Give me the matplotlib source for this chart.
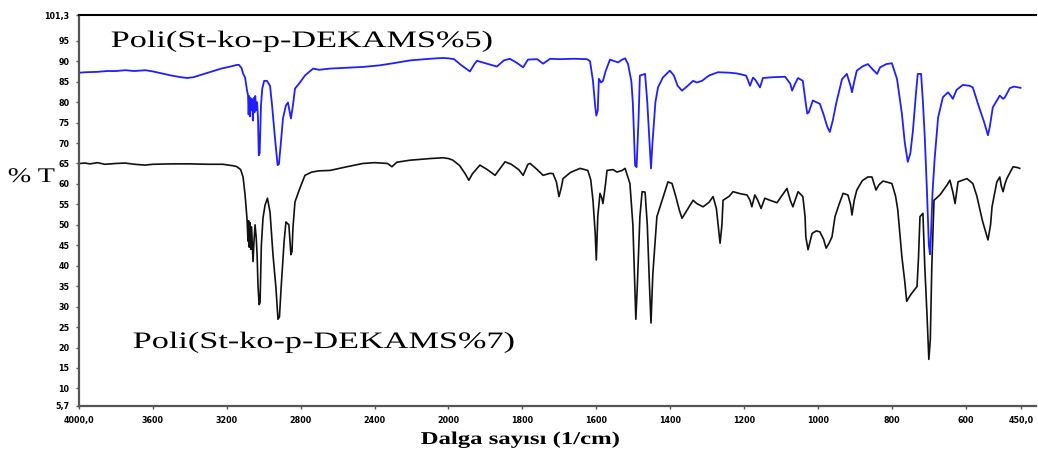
import numpy as np
import matplotlib
matplotlib.use("Agg")
import matplotlib.pyplot as plt
from matplotlib.patheffects import AbstractPathEffect
from matplotlib.transforms import Affine2D
from matplotlib.ticker import FixedLocator, FixedFormatter

# ---------------- spectra (wavenumber in 1/cm, transmittance in %T) ----------------
wn_5 = [3995, 3968, 3900, 3850, 3800, 3750, 3700, 3640, 3600, 3550, 3500, 3450, 3415,
        3380, 3330, 3280, 3230, 3180, 3145, 3134, 3120, 3112, 3101, 3091, 3085, 3082,
        3079, 3075, 3071, 3066, 3062, 3059, 3055, 3050, 3046, 3041, 3036, 3031, 3027,
        3022, 3015, 3008, 2998, 2983, 2966, 2955, 2939, 2925, 2918, 2907, 2896, 2880,
        2869, 2853, 2842, 2831, 2804, 2777, 2733, 2700, 2641, 2550, 2463, 2371, 2300,
        2208, 2100, 2030, 2000, 1985, 1965, 1942, 1930, 1923, 1900, 1869, 1850, 1834,
        1815, 1798, 1785, 1760, 1744, 1725, 1700, 1660, 1625, 1617, 1609, 1603, 1600,
        1596, 1593, 1587, 1582, 1575, 1563, 1550, 1541, 1530, 1522, 1514, 1505, 1501,
        1495, 1491, 1486, 1482, 1468, 1462, 1456, 1452, 1448, 1440, 1433, 1420, 1401,
        1390, 1380, 1368, 1355, 1338, 1328, 1314, 1295, 1271, 1240, 1219, 1195, 1190,
        1184, 1176, 1170, 1157, 1149, 1120, 1089, 1075, 1070, 1062, 1054, 1041, 1033,
        1029, 1025, 1014, 1005, 995, 985, 975, 968, 960, 950, 935, 922, 912, 908, 902,
        895, 880, 865, 852, 840, 832, 815, 800, 786, 773, 765, 757, 750, 743, 735, 730,
        721, 716, 711, 705, 700, 697, 694, 690, 684, 675, 662, 648, 640, 635, 625, 608,
        590, 581, 565, 550, 540, 535, 527, 515, 508, 499, 494, 481, 470, 459, 452]
t_5 = [87.2, 87.3, 87.4, 87.6, 87.6, 87.8, 87.6, 87.8, 87.5, 87.0, 86.5, 86.1, 85.9,
       86.1, 86.8, 87.5, 88.2, 88.7, 89.1, 89.1, 88.3, 87.0, 86.0, 83.0, 81.6, 77.0,
       81.5, 76.5, 81.0, 78.0, 80.5, 75.5, 81.0, 77.5, 81.5, 78.0, 80.0, 76.0, 67.0,
       67.5, 79.2, 83.3, 85.2, 85.2, 84.0, 79.2, 71.1, 64.6, 64.8, 70.2, 76.0, 79.2,
       79.9, 76.0, 79.2, 83.3, 84.8, 86.5, 88.2, 87.9, 88.2, 88.4, 88.6, 89.0, 89.5,
       90.2, 90.6, 90.8, 90.7, 90.5, 89.0, 87.5, 89.3, 90.1, 89.5, 88.7, 90.2, 90.6,
       89.6, 88.5, 90.4, 90.5, 89.4, 90.6, 90.5, 90.6, 90.5, 90.0, 85.2, 79.0, 76.7,
       78.0, 85.7, 84.8, 85.2, 87.5, 90.4, 90.0, 89.7, 90.4, 90.7, 89.3, 85.0, 79.6,
       64.5, 64.1, 75.0, 86.5, 86.9, 80.0, 70.0, 63.8, 70.0, 80.0, 83.6, 86.0, 87.7,
       86.5, 84.0, 82.8, 83.8, 85.2, 84.8, 85.2, 86.5, 87.3, 87.2, 87.0, 86.5, 85.5,
       84.0, 86.0, 85.5, 83.6, 85.9, 86.1, 86.2, 84.5, 82.8, 84.5, 85.9, 85.2, 79.6,
       77.2, 77.5, 80.4, 80.0, 79.6, 77.0, 74.0, 72.7, 75.5, 80.0, 85.6, 86.9, 84.0,
       82.4, 85.0, 87.7, 88.7, 89.3, 88.0, 86.9, 88.5, 89.3, 89.5, 85.6, 77.2, 70.0,
       65.4, 67.5, 73.1, 82.0, 86.9, 86.9, 80.0, 71.4, 58.0, 45.0, 42.8, 48.0, 58.0,
       66.5, 76.2, 81.2, 82.4, 81.5, 80.8, 83.0, 84.2, 84.0, 83.6, 79.0, 75.0, 71.9,
       74.0, 78.7, 80.5, 81.6, 80.8, 81.2, 83.4, 83.8, 83.6, 83.5]

wn_7 = [3995, 3968, 3940, 3900, 3860, 3800, 3750, 3700, 3643, 3600, 3500, 3400, 3300,
        3221, 3160, 3145, 3125, 3112, 3101, 3091, 3085, 3082, 3078, 3074, 3070, 3066,
        3062, 3058, 3053, 3047, 3041, 3036, 3031, 3025, 3020, 3013, 3004, 2993, 2980,
        2966, 2950, 2934, 2923, 2915, 2906, 2890, 2880, 2864, 2853, 2847, 2842, 2831,
        2804, 2777, 2740, 2700, 2641, 2550, 2463, 2400, 2330, 2306, 2280, 2208, 2100,
        2030, 2000, 1988, 1970, 1955, 1945, 1935, 1915, 1895, 1874, 1860, 1847, 1830,
        1810, 1798, 1785, 1779, 1760, 1744, 1725, 1717, 1708, 1701, 1695, 1690, 1670,
        1644, 1623, 1615, 1609, 1603, 1600, 1596, 1590, 1585, 1582, 1575, 1571, 1555,
        1544, 1530, 1522, 1509, 1501, 1496, 1493, 1489, 1482, 1476, 1468, 1462, 1456,
        1452, 1447, 1436, 1422, 1406, 1395, 1385, 1375, 1368, 1355, 1338, 1328, 1311,
        1295, 1284, 1275, 1268, 1265, 1260, 1257, 1240, 1230, 1210, 1192, 1184, 1179,
        1171, 1163, 1154, 1144, 1130, 1111, 1095, 1084, 1075, 1068, 1060, 1054, 1041,
        1035, 1033, 1027, 1020, 1016, 1005, 995, 985, 978, 970, 962, 954, 943, 932,
        919, 912, 908, 902, 895, 880, 865, 854, 848, 843, 835, 824, 800, 790, 784, 773,
        765, 760, 752, 746, 732, 728, 724, 716, 711, 705, 700, 696, 692, 686, 670, 651,
        643, 635, 629, 621, 597, 581, 570, 555, 540, 533, 529, 516, 508, 504, 499, 494,
        489, 472, 460, 454]
t_7 = [65.0, 65.1, 64.9, 65.2, 64.8, 65.0, 65.1, 64.8, 64.6, 64.8, 64.9, 64.9, 64.8,
       64.8, 64.4, 64.2, 63.5, 61.7, 57.3, 51.7, 46.0, 51.0, 44.5, 50.5, 44.0, 49.5,
       45.0, 41.0, 45.8, 50.0, 47.0, 42.7, 35.0, 30.5, 31.0, 45.0, 51.7, 54.8, 56.5,
       53.1, 42.7, 34.6, 26.9, 27.5, 34.6, 45.8, 50.7, 50.0, 42.7, 43.5, 49.2, 55.6,
       59.0, 62.1, 62.9, 63.2, 63.3, 64.2, 65.0, 65.2, 65.0, 64.2, 65.3, 65.8, 66.2,
       66.4, 66.2, 65.8, 64.5, 62.5, 60.9, 62.5, 64.6, 63.5, 62.1, 63.8, 65.4, 64.8,
       63.5, 62.1, 64.8, 65.0, 63.5, 62.1, 62.6, 62.5, 60.5, 56.9, 59.0, 61.3, 62.8,
       63.8, 63.3, 61.0, 56.0, 48.0, 41.4, 52.0, 57.7, 56.5, 55.2, 60.0, 63.3, 63.5,
       62.9, 63.3, 63.8, 60.1, 50.0, 35.0, 26.9, 35.0, 52.0, 58.1, 58.0, 50.0, 35.0,
       26.0, 38.0, 52.0, 56.0, 60.5, 60.1, 57.0, 53.5, 51.6, 53.5, 56.0, 55.2, 54.4,
       55.5, 56.9, 54.0, 48.0, 45.5, 50.0, 56.0, 57.0, 58.1, 57.6, 57.3, 56.0, 54.4,
       57.3, 56.0, 54.0, 56.5, 56.0, 55.4, 57.5, 58.9, 56.0, 54.4, 56.5, 58.1, 56.9,
       52.0, 47.1, 43.9, 46.5, 47.9, 48.5, 48.3, 46.5, 44.3, 45.5, 47.1, 52.0, 55.0,
       57.7, 57.3, 55.0, 52.4, 56.0, 58.5, 60.8, 61.7, 61.7, 60.0, 58.5, 59.8, 60.7,
       60.1, 57.0, 53.6, 42.2, 36.0, 31.3, 32.5, 33.3, 34.9, 42.0, 52.0, 52.8, 39.8,
       28.0, 17.1, 22.0, 39.8, 56.0, 57.3, 59.7, 60.9, 58.0, 55.2, 60.5, 61.3, 60.1,
       57.0, 51.0, 46.3, 50.0, 54.4, 60.5, 61.7, 59.5, 58.1, 60.0, 61.3, 64.2, 64.0,
       63.8]

label_5 = "Poli(St-ko-p-DEKAMS%5)"
label_7 = "Poli(St-ko-p-DEKAMS%7)"

x_ticks = [4000, 3600, 3200, 2800, 2400, 2000, 1800, 1600, 1400, 1200, 1000, 800, 600, 450]
x_tick_labels = ["4000,0", "3600", "3200", "2800", "2400", "2000", "1800", "1600",
                 "1400", "1200", "1000", "800", "600", "450,0"]
y_ticks = [5.7, 10, 15, 20, 25, 30, 35, 40, 45, 50, 55, 60, 65, 70, 75, 80, 85, 90, 95, 101.3]
y_tick_labels = ["5,7", "10", "15", "20", "25", "30", "35", "40", "45", "50", "55", "60",
                 "65", "70", "75", "80", "85", "90", "95", "101,3"]


class HStretch(AbstractPathEffect):
    """Draw text widened horizontally about its left, centre or right edge."""

    def __init__(self, sx, anchor="left"):
        super().__init__()
        self.sx = sx
        self.anchor = anchor

    def draw_path(self, renderer, gc, tpath, affine, rgbFace=None):
        ext = tpath.get_extents(affine)
        if self.anchor == "left":
            x0 = ext.x0
        elif self.anchor == "right":
            x0 = ext.x1
        else:
            x0 = 0.5 * (ext.x0 + ext.x1)
        t = affine + Affine2D().translate(-x0, 0).scale(self.sx, 1.0).translate(x0, 0)
        renderer.draw_path(gc, tpath, t, rgbFace)


# split wavenumber axis: 400 1/cm per division above 2000, 200 below
# (increasing in wavenumber; the axis is then shown high-to-low via xlim)
def fwd(w):
    w = np.asarray(w, dtype=float)
    return np.where(w >= 2000, (w - 4000) / 400.0, -5 - (2000 - w) / 200.0)


def inv(u):
    u = np.asarray(u, dtype=float)
    return np.where(u >= -5, 4000 + 400.0 * u, 2000 + 200.0 * (u + 5))


W, H = 1038, 455
fig = plt.figure(figsize=(W / 100, H / 100), dpi=100)
ax = fig.add_axes([79 / W, (H - 406) / H, (1036 - 79) / W, (406 - 15) / H])

ax.plot(wn_5, t_5, color="#1f1fff", lw=1.3)
ax.plot(wn_7, t_7, color="#111111", lw=1.2)

ax.set_xscale("function", functions=(fwd, inv))
ax.set_xlim(4000, 410)
ax.set_ylim(5.7, 101.3)

ax.xaxis.set_major_locator(FixedLocator(x_ticks))
ax.xaxis.set_major_formatter(FixedFormatter(x_tick_labels))
ax.xaxis.set_minor_locator(FixedLocator([]))
ax.yaxis.set_major_locator(FixedLocator(y_ticks))
ax.yaxis.set_major_formatter(FixedFormatter(y_tick_labels))

ax.tick_params(axis="both", direction="out", length=2.5, width=1.0, color="#555555",
               labelsize=5.8, pad=4.5)
for lab in ax.get_xticklabels() + ax.get_yticklabels():
    lab.set_fontweight("bold")
    lab.set_fontfamily("DejaVu Sans")

ax.spines["right"].set_visible(False)
ax.spines["top"].set_color("black")
ax.spines["top"].set_linewidth(1.5)
for s in ("left", "bottom"):
    ax.spines[s].set_color("#555555")
    ax.spines[s].set_linewidth(1.6)

serif = ["Liberation Serif", "DejaVu Serif"]
fig.text(111 / W, (H - 47) / H, label_5, family=serif, fontsize=17, va="baseline",
         ha="left", path_effects=[HStretch(1.45, "left")])
fig.text(133 / W, (H - 348) / H, label_7, family=serif, fontsize=17, va="baseline",
         ha="left", path_effects=[HStretch(1.45, "left")])
fig.text(8 / W, (H - 182) / H, "% T", family=serif, fontsize=15, va="baseline",
         ha="left", path_effects=[HStretch(1.35, "left")])
fig.text(520 / W, (H - 444) / H, "Dalga sayısı (1/cm)", family=serif, fontsize=13,
         fontweight="bold", va="baseline", ha="center",
         path_effects=[HStretch(1.37, "center")])

fig.savefig("out.png", dpi=100, facecolor="white")
